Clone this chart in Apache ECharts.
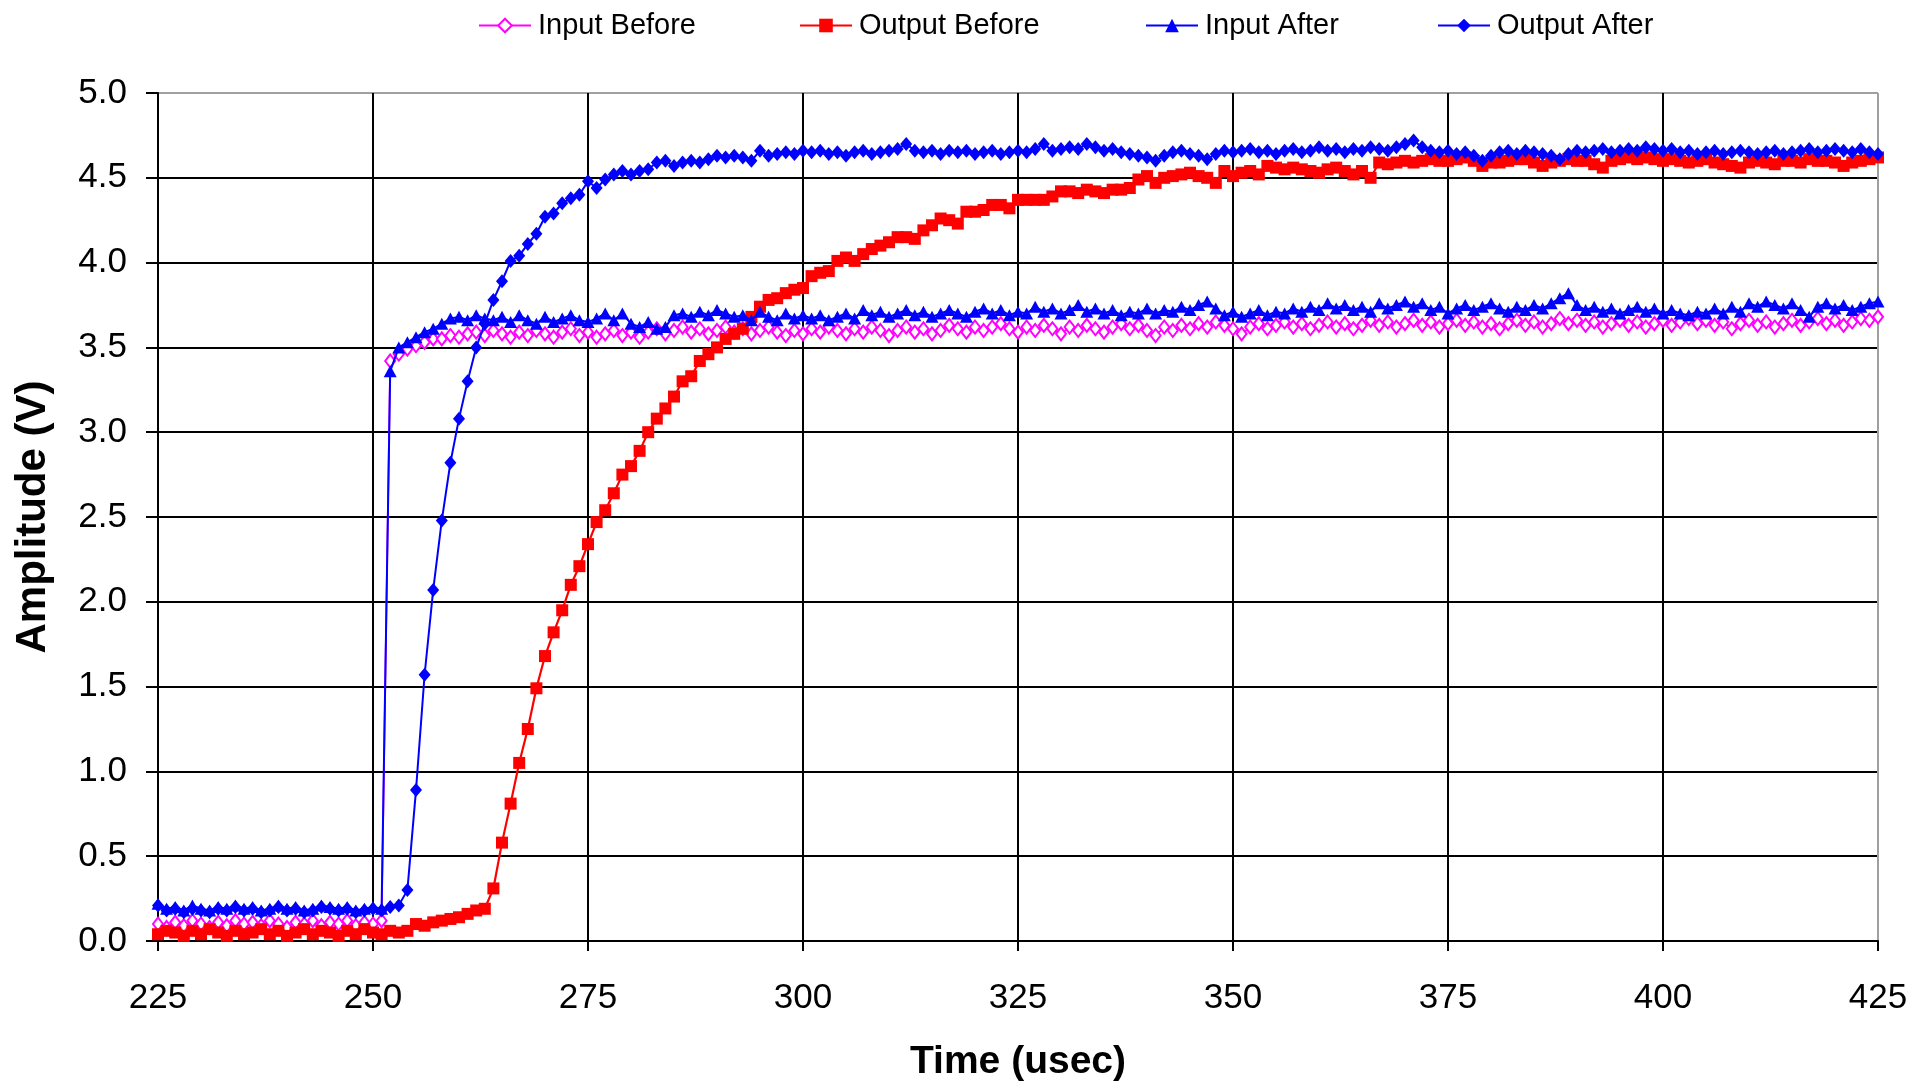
<!DOCTYPE html>
<html>
<head>
<meta charset="utf-8">
<script src="https://cdn.jsdelivr.net/npm/echarts@6/dist/echarts.min.js"></script>
<style>
html,body{margin:0;padding:0;background:#fff;}
#chart{width:1916px;height:1083px;}
</style>
</head>
<body>
<div id="chart"></div>
<script>
// Sample times (usec)
const timeUs = [
225,226,227,228,229,230,231,232,233,234,
235,236,237,238,239,240,241,242,243,244,
245,246,247,248,249,250,251,252,253,254,
255,256,257,258,259,260,261,262,263,264,
265,266,267,268,269,270,271,272,273,274,
275,276,277,278,279,280,281,282,283,284,
285,286,287,288,289,290,291,292,293,294,
295,296,297,298,299,300,301,302,303,304,
305,306,307,308,309,310,311,312,313,314,
315,316,317,318,319,320,321,322,323,324,
325,326,327,328,329,330,331,332,333,334,
335,336,337,338,339,340,341,342,343,344,
345,346,347,348,349,350,351,352,353,354,
355,356,357,358,359,360,361,362,363,364,
365,366,367,368,369,370,371,372,373,374,
375,376,377,378,379,380,381,382,383,384,
385,386,387,388,389,390,391,392,393,394,
395,396,397,398,399,400,401,402,403,404,
405,406,407,408,409,410,411,412,413,414,
415,416,417,418,419,420,421,422,423,424,
425];

const inputBefore = [
0.10,0.08,0.11,0.09,0.12,0.10,0.08,0.11,0.09,0.12,
0.10,0.11,0.09,0.12,0.10,0.08,0.11,0.10,0.12,0.09,
0.11,0.10,0.12,0.09,0.11,0.10,0.12,3.42,3.46,3.49,
3.51,3.53,3.55,3.55,3.57,3.56,3.58,3.59,3.57,3.60,
3.58,3.56,3.59,3.57,3.60,3.58,3.56,3.59,3.61,3.57,
3.59,3.56,3.58,3.60,3.57,3.59,3.56,3.59,3.61,3.58,
3.60,3.62,3.59,3.61,3.58,3.60,3.62,3.59,3.61,3.58,
3.60,3.62,3.59,3.57,3.60,3.58,3.61,3.59,3.62,3.60,
3.58,3.61,3.59,3.62,3.60,3.57,3.60,3.62,3.59,3.61,
3.58,3.60,3.63,3.61,3.59,3.62,3.60,3.62,3.64,3.61,
3.59,3.62,3.60,3.63,3.61,3.58,3.62,3.60,3.63,3.61,
3.59,3.62,3.64,3.61,3.63,3.60,3.57,3.62,3.60,3.63,
3.61,3.64,3.62,3.65,3.63,3.61,3.58,3.62,3.64,3.61,
3.63,3.65,3.62,3.64,3.61,3.63,3.65,3.62,3.64,3.61,
3.63,3.66,3.63,3.65,3.62,3.64,3.66,3.63,3.65,3.62,
3.64,3.66,3.63,3.65,3.62,3.64,3.61,3.64,3.66,3.63,
3.65,3.62,3.64,3.67,3.64,3.66,3.63,3.65,3.62,3.64,
3.66,3.63,3.65,3.62,3.64,3.66,3.63,3.65,3.67,3.64,
3.66,3.63,3.65,3.61,3.64,3.66,3.63,3.65,3.62,3.64,
3.66,3.63,3.65,3.67,3.64,3.66,3.63,3.65,3.67,3.66,
3.68];

const outputBefore = [
0.04,0.06,0.05,0.03,0.06,0.04,0.07,0.05,0.03,0.06,
0.04,0.05,0.07,0.04,0.06,0.03,0.05,0.07,0.04,0.06,
0.05,0.03,0.06,0.04,0.07,0.05,0.04,0.06,0.05,0.06,
0.10,0.09,0.11,0.12,0.13,0.14,0.16,0.18,0.19,0.31,
0.58,0.81,1.05,1.25,1.49,1.68,1.82,1.95,2.10,2.21,
2.34,2.47,2.54,2.64,2.75,2.80,2.89,3.00,3.08,3.14,
3.21,3.30,3.33,3.42,3.46,3.50,3.55,3.58,3.61,3.68,
3.74,3.78,3.79,3.82,3.84,3.85,3.92,3.94,3.95,4.01,
4.03,4.01,4.05,4.08,4.10,4.12,4.15,4.15,4.14,4.19,
4.22,4.26,4.25,4.23,4.30,4.30,4.31,4.34,4.34,4.32,
4.37,4.37,4.37,4.37,4.39,4.42,4.42,4.41,4.43,4.42,
4.41,4.43,4.43,4.44,4.49,4.51,4.47,4.50,4.51,4.52,
4.53,4.51,4.50,4.47,4.54,4.51,4.53,4.54,4.52,4.57,
4.56,4.55,4.56,4.55,4.54,4.53,4.55,4.56,4.54,4.52,
4.54,4.50,4.59,4.58,4.59,4.60,4.59,4.60,4.61,4.60,
4.60,4.61,4.62,4.60,4.57,4.59,4.59,4.60,4.61,4.61,
4.59,4.57,4.59,4.60,4.61,4.60,4.60,4.58,4.56,4.60,
4.61,4.62,4.61,4.62,4.61,4.60,4.61,4.60,4.59,4.60,
4.61,4.59,4.58,4.57,4.56,4.59,4.60,4.59,4.58,4.60,
4.60,4.59,4.61,4.60,4.60,4.59,4.57,4.59,4.60,4.61,
4.62];

const inputAfter = [
0.22,0.19,0.20,0.18,0.21,0.19,0.18,0.20,0.19,0.21,
0.19,0.20,0.18,0.19,0.21,0.19,0.20,0.18,0.19,0.21,
0.20,0.19,0.20,0.18,0.19,0.20,0.19,3.36,3.50,3.53,
3.56,3.59,3.61,3.64,3.67,3.68,3.66,3.69,3.67,3.66,
3.68,3.65,3.69,3.66,3.64,3.68,3.65,3.67,3.69,3.66,
3.65,3.67,3.70,3.66,3.70,3.64,3.62,3.65,3.61,3.62,
3.69,3.70,3.68,3.71,3.69,3.72,3.70,3.68,3.69,3.66,
3.71,3.68,3.66,3.70,3.67,3.69,3.67,3.69,3.66,3.68,
3.70,3.67,3.72,3.69,3.71,3.68,3.70,3.72,3.69,3.71,
3.68,3.70,3.72,3.70,3.68,3.71,3.73,3.70,3.72,3.69,
3.71,3.70,3.74,3.71,3.73,3.70,3.72,3.75,3.71,3.73,
3.70,3.72,3.69,3.71,3.70,3.73,3.70,3.72,3.71,3.74,
3.72,3.75,3.77,3.73,3.69,3.71,3.68,3.70,3.72,3.69,
3.71,3.70,3.73,3.71,3.74,3.72,3.76,3.73,3.75,3.72,
3.74,3.71,3.76,3.73,3.75,3.77,3.74,3.76,3.72,3.74,
3.70,3.73,3.75,3.72,3.74,3.76,3.73,3.71,3.74,3.72,
3.75,3.73,3.76,3.79,3.82,3.75,3.72,3.74,3.71,3.73,
3.70,3.72,3.74,3.71,3.73,3.70,3.72,3.70,3.69,3.71,
3.70,3.73,3.70,3.74,3.71,3.76,3.74,3.77,3.75,3.73,
3.76,3.72,3.68,3.74,3.76,3.73,3.75,3.72,3.74,3.76,
3.77];

const outputAfter = [
0.21,0.18,0.19,0.17,0.19,0.18,0.17,0.19,0.18,0.20,
0.18,0.19,0.17,0.18,0.20,0.18,0.19,0.17,0.18,0.20,
0.19,0.18,0.19,0.17,0.18,0.19,0.18,0.20,0.21,0.30,
0.89,1.57,2.07,2.48,2.82,3.08,3.30,3.50,3.64,3.78,
3.89,4.01,4.04,4.11,4.17,4.27,4.29,4.35,4.38,4.40,
4.48,4.44,4.49,4.52,4.54,4.52,4.54,4.55,4.59,4.60,
4.57,4.59,4.60,4.59,4.61,4.63,4.62,4.63,4.62,4.60,
4.66,4.63,4.64,4.65,4.64,4.66,4.65,4.66,4.64,4.65,
4.63,4.65,4.66,4.64,4.65,4.66,4.67,4.70,4.66,4.65,
4.66,4.64,4.66,4.65,4.66,4.64,4.65,4.66,4.64,4.65,
4.66,4.65,4.67,4.70,4.66,4.67,4.68,4.67,4.70,4.68,
4.66,4.67,4.65,4.64,4.63,4.62,4.60,4.63,4.65,4.66,
4.64,4.63,4.61,4.64,4.66,4.65,4.66,4.67,4.65,4.66,
4.64,4.66,4.67,4.65,4.66,4.68,4.66,4.67,4.65,4.67,
4.66,4.68,4.67,4.66,4.68,4.70,4.72,4.68,4.66,4.65,
4.66,4.64,4.65,4.63,4.60,4.63,4.65,4.66,4.64,4.66,
4.65,4.64,4.63,4.61,4.64,4.66,4.65,4.66,4.67,4.65,
4.66,4.67,4.66,4.68,4.67,4.66,4.67,4.65,4.66,4.64,
4.65,4.66,4.64,4.65,4.66,4.65,4.64,4.65,4.66,4.64,
4.65,4.66,4.67,4.65,4.66,4.67,4.66,4.65,4.67,4.65,
4.64];

const seriesNames = ['Input Before', 'Output Before', 'Input After', 'Output After'];
const xTicks = [225, 250, 275, 300, 325, 350, 375, 400, 425];
const yTicks = [0, 0.5, 1, 1.5, 2, 2.5, 3, 3.5, 4, 4.5, 5];

function pairs(vals) { return timeUs.map((t, i) => [t, vals[i]]); }

const FONT = "'Liberation Sans', Arial, sans-serif";
const chart = echarts.init(document.getElementById('chart'), null, {renderer: 'canvas'});

const legendLeft = [473, 794, 1140, 1432];
const legends = seriesNames.map((n, i) => ({
  data: [n],
  left: legendLeft[i],
  top: 6,
  itemWidth: 52,
  itemHeight: 17,
  itemGap: 0,
  selectedMode: false,
  textStyle: {fontFamily: FONT, fontSize: 29, color: '#000', padding: [0, 0, 0, 2]}
}));

const gridColorX = xTicks.map((v, i) => i === xTicks.length - 1 ? '#a0a0a0' : '#000');
const gridColorY = yTicks.map((v, i) => i === yTicks.length - 1 ? '#a0a0a0' : '#000');

chart.setOption({
  backgroundColor: '#fff',
  animation: false,
  legend: legends,
  grid: {left: 158, right: 38, top: 93, bottom: 142, containLabel: false, outerBoundsMode: 'none'},
  xAxis: {
    type: 'value', min: 225, max: 425, interval: 25,
    name: 'Time (usec)', nameLocation: 'middle', nameGap: 102,
    nameTextStyle: {fontFamily: FONT, fontSize: 39, fontWeight: 'bold', color: '#000'},
    axisLine: {show: true, onZero: false, lineStyle: {color: '#000', width: 2}},
    axisTick: {show: true, inside: false, length: 10, lineStyle: {color: '#000', width: 2}},
    axisLabel: {margin: 40, fontFamily: FONT, fontSize: 35, color: '#000'},
    splitLine: {show: true, lineStyle: {color: gridColorX, width: 2}}
  },
  yAxis: {
    type: 'value', min: 0, max: 5, interval: 0.5,
    name: 'Amplitude (V)', nameLocation: 'middle', nameGap: 104, nameRotate: 90,
    nameTextStyle: {fontFamily: FONT, fontSize: 42, fontWeight: 'bold', color: '#000'},
    axisLine: {show: true, lineStyle: {color: '#000', width: 2}},
    axisTick: {show: true, inside: false, length: 12, lineStyle: {color: '#000', width: 2}},
    axisLabel: {margin: 31, fontFamily: FONT, fontSize: 35, color: '#000',
      formatter: v => v.toFixed(1)},
    splitLine: {show: true, lineStyle: {color: gridColorY, width: 2}}
  },
  series: [
    {
      name: seriesNames[0], type: 'line', data: pairs(inputBefore),
      symbol: 'emptyDiamond', symbolSize: [10, 13],
      itemStyle: {color: '#ff00ff', borderColor: '#ff00ff', borderWidth: 1.2},
      lineStyle: {color: '#ff00ff', width: 1.8}, z: 2
    },
    {
      name: seriesNames[1], type: 'line', data: pairs(outputBefore),
      symbol: 'rect', symbolSize: 12,
      itemStyle: {color: '#ff0000'},
      lineStyle: {color: '#ff0000', width: 2.2}, z: 3
    },
    {
      name: seriesNames[2], type: 'line', data: pairs(inputAfter),
      symbol: 'triangle', symbolSize: [13, 12],
      itemStyle: {color: '#0000ff'},
      lineStyle: {color: '#0000ff', width: 2}, z: 4
    },
    {
      name: seriesNames[3], type: 'line', data: pairs(outputAfter),
      symbol: 'diamond', symbolSize: [12, 14],
      itemStyle: {color: '#0000ff'},
      lineStyle: {color: '#0000ff', width: 2}, z: 5
    }
  ]
});
</script>
</body>
</html>
